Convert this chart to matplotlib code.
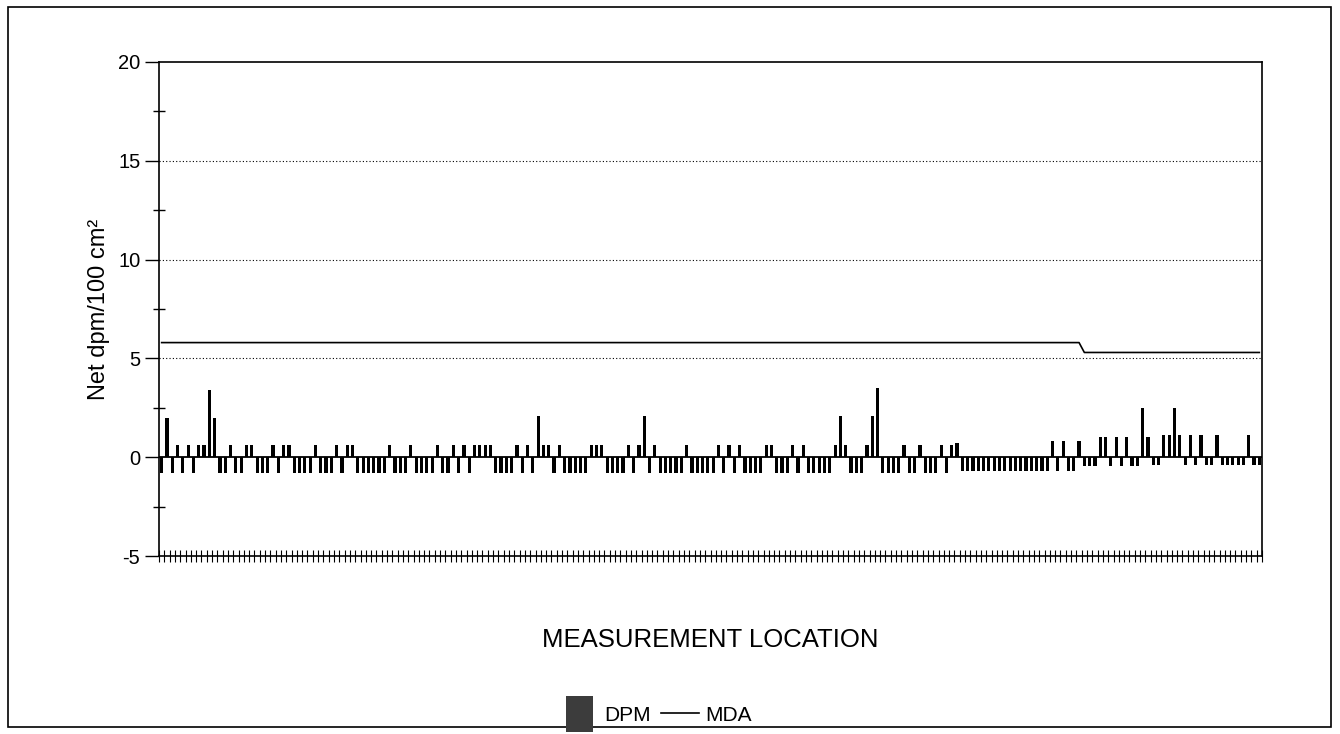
import numpy as np
import matplotlib.pyplot as plt
from matplotlib.patches import Patch, Rectangle
from matplotlib.lines import Line2D
from matplotlib.legend_handler import HandlerPatch
from matplotlib.ticker import MultipleLocator

plt.rcParams['font.family'] = ['Liberation Sans', 'DejaVu Sans']
plt.rcParams['axes.unicode_minus'] = False

# bar heights, left to right (P = small positive, N = small negative)
P, N = 0.6, -0.8
sec1 = [N, 2.0, N, P, N, P, N, P, P, 3.4, 2.0, N, N, P, N, N, P, P, N]
sec2 = [N, N, P, N, P, P, N, N, N, N, P, N, N, N, P, N, P, P, N]
sec3 = [N, N, N, N, N, P, N, N, N, P, N, N, N, N, P, N, N, P, N]
sec4 = [P, N, P, P, P, P, N, N, N, N, P, N, P, N, 2.1, P, P, N, P]
sec5 = [N, N, N, N, N, P, P, P, N, N, N, N, P, N, P, 2.1, N, P]
sec6 = [N, N, N, N, N, P, N, N, N, N, N, P, N, P, N, P, N, N, N]
sec7 = [N, P, P, N, N, N, P, N, P, N, N, N, N, N, P, 2.1, P, N, N]
sec8 = [N, P, 2.1, 3.5, N, N, N, N, P, N, N, P, N, N, N, P, N, P, 0.7]
sec9 = [-0.7] * 17 + [0.8, -0.7, 0.8]
sec10 = [-0.7, -0.7, 0.8, -0.45, -0.45, -0.45, 1.0, 1.0, -0.45, 1.0, -0.45,
         1.0, -0.45, -0.45, 2.5, 1.0, -0.4, -0.4]
sec11 = [1.1, 1.1, 2.5, 1.1, -0.4, 1.1, -0.4, 1.1, -0.4, -0.4, 1.1,
         -0.4, -0.4, -0.4, -0.4, -0.4, 1.1, -0.4, -0.4]

dpm = sec1 + sec2 + sec3 + sec4 + sec5 + sec6 + sec7 + sec8 + sec9 + sec10 + sec11
n = len(dpm)
drop_at = 174
mda = [5.8] * drop_at + [5.3] * (n - drop_at)
x = np.arange(n)

fig = plt.figure(figsize=(13.4, 7.34), dpi=100)
ax = fig.add_axes([159 / 1340, 1 - 556 / 734, 1103 / 1340, 494 / 734])

ax.bar(x, dpm, width=0.6, color='black', zorder=3)
ax.plot(x, mda, color='black', lw=1.2, zorder=4)
ax.axhline(0, color='black', lw=1.3, zorder=2)
for g in [5, 10, 15]:
    ax.axhline(g, color='black', lw=0.8, ls=(0, (1, 2)), zorder=1)

ax.set_xlim(-0.5, n - 0.5)
ax.set_ylim(-5, 20)
ax.yaxis.set_major_locator(MultipleLocator(5))
ax.yaxis.set_minor_locator(MultipleLocator(2.5))
ax.tick_params(axis='y', which='major', direction='out', length=10, width=1, labelsize=14.5)
ax.tick_params(axis='y', which='minor', direction='inout', length=8, width=1)
ax.set_xticks(np.arange(n + 1) - 0.5)
ax.set_xticklabels([])
ax.tick_params(axis='x', direction='inout', length=8, width=0.8)
for s in ax.spines.values():
    s.set_linewidth(1.2)

ax.set_ylabel('Net dpm/100 cm²', fontsize=17, labelpad=6)
fig.text(710 / 1340, 1 - 640 / 734, 'MEASUREMENT LOCATION', fontsize=18.5,
         ha='center', va='center')


def narrow_box(legend, orig_handle, xdescent, ydescent, width, height, fontsize):
    w = width * 0.72
    return Rectangle((-xdescent + (width - w) / 2, -ydescent - height * 0.45),
                     w, height * 1.9)


handles = [Patch(facecolor='#3c3c3c', edgecolor='none'),
           Line2D([], [], color='black', lw=1.2)]
fig.legend(handles, ['DPM', 'MDA'], loc='center', ncol=2, frameon=False,
           bbox_to_anchor=(656 / 1340, 1 - 715 / 734), fontsize=15,
           handlelength=1.8, handleheight=1.0, columnspacing=0.5, handletextpad=0.3,
           handler_map={Patch: HandlerPatch(patch_func=narrow_box)})

fig.patches.append(Rectangle((8 / 1340, 7 / 734), 1323 / 1340, 720 / 734,
                             transform=fig.transFigure, fill=False,
                             edgecolor='black', lw=1.2))

fig.savefig('out.png', dpi=100)
